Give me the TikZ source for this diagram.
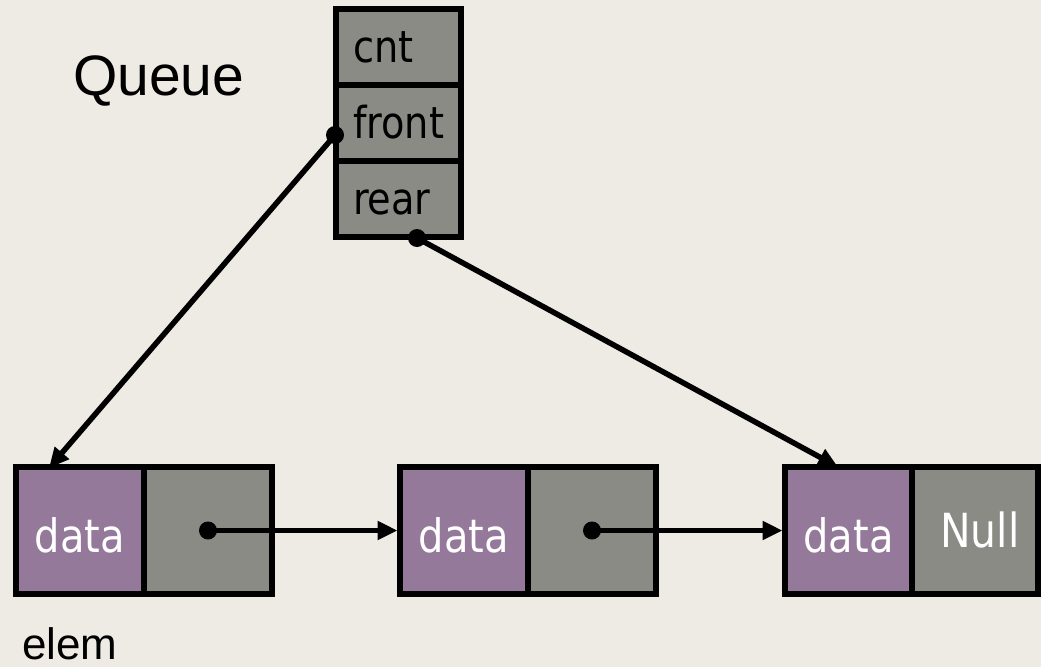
\documentclass[tikz,border=0pt]{standalone}
\usepackage{fontspec}
\setmainfont{Liberation Sans}
\newfontfamily\cellfont{DejaVu Sans}[FakeStretch=0.87]
\usetikzlibrary{arrows.meta,calc}
\definecolor{bgc}{HTML}{EEEBE4}
\definecolor{purp}{HTML}{95799A}
\definecolor{grayc}{HTML}{8A8B85}
\tikzset{
  box/.style={draw=black, line width=6pt, inner sep=0pt, outer sep=0pt, minimum height=127pt},
  datacell/.style={box, fill=purp, minimum width=128pt, text=white,
    font=\cellfont\fontsize{46}{50}\selectfont, text height=43pt, text depth=0pt},
  ptrcell/.style={box, fill=grayc, minimum width=128pt, text=white,
    font=\cellfont\fontsize{46}{50}\selectfont, text height=34pt, text depth=0pt},
  qcell/.style={draw=black, line width=6pt, fill=grayc, minimum height=76pt,
    text width=91pt, inner xsep=17pt, inner ysep=0pt, outer sep=0pt, align=left,
    font=\cellfont\fontsize{44}{48}\selectfont, text height=31pt, text depth=0pt},
  link/.style={line width=5.5pt, -{Triangle[length=20pt,width=18pt]}},
  title/.style={inner sep=0pt, anchor=base west, text depth=0pt}
}
\begin{document}
\begin{tikzpicture}[x=1pt,y=-1pt]
\fill[bgc] (0,0) rectangle (1041,667);
\useasboundingbox (0,0) rectangle (1041,667);

% queue record
\node[qcell] (cnt)   at (398.5,47)  {cnt};
\node[qcell] (front) at (398.5,123) {front};
\node[qcell] (rear)  at (398.5,199) {rear};

\node[title, font=\fontsize{57}{60}\selectfont] (qlbl) at (73,95) {Queue};
\node[title, font=\fontsize{44}{48}\selectfont] (elbl) at (22,659) {elem};

% list elements
\node[datacell] (d1) at (80,530.5)  {data};
\node[ptrcell]  (p1) at (208,530.5) {};
\node[datacell] (d2) at (464,530.5) {data};
\node[ptrcell]  (p2) at (592,530.5) {};
\node[datacell, minimum width=127pt] (d3) at (848.5,530.5) {data};
\node[ptrcell, minimum width=126pt] (p3) at (975,530.5) {};
\node[inner sep=0pt, text=white, font=\cellfont\fontsize{47}{50}\selectfont,
      text height=34pt, text depth=0pt] (nul) at (980,530.5) {Null};

% connectors
\coordinate (fdot) at ($(front.west)+(-1,12)$);
\coordinate (rdot) at ($(rear.south)+(18.5,1)$);
\coordinate (d1in) at ($(d1.north west)+(33,1)$);
\coordinate (d3in) at ($(d3.north west)+(53,0)$);

\draw[link] (fdot) -- (d1in);
\draw[link] (rdot) -- (d3in);
\draw[link, shorten >=2.5pt] (p1.center) -- (d2.west);
\draw[link, shorten >=2.5pt] (p2.center) -- (d3.west);

\fill (fdot) circle[radius=9pt];
\fill (rdot) circle[radius=9pt];
\fill (p1.center) circle[radius=9pt];
\fill (p2.center) circle[radius=9pt];
\end{tikzpicture}
\end{document}
